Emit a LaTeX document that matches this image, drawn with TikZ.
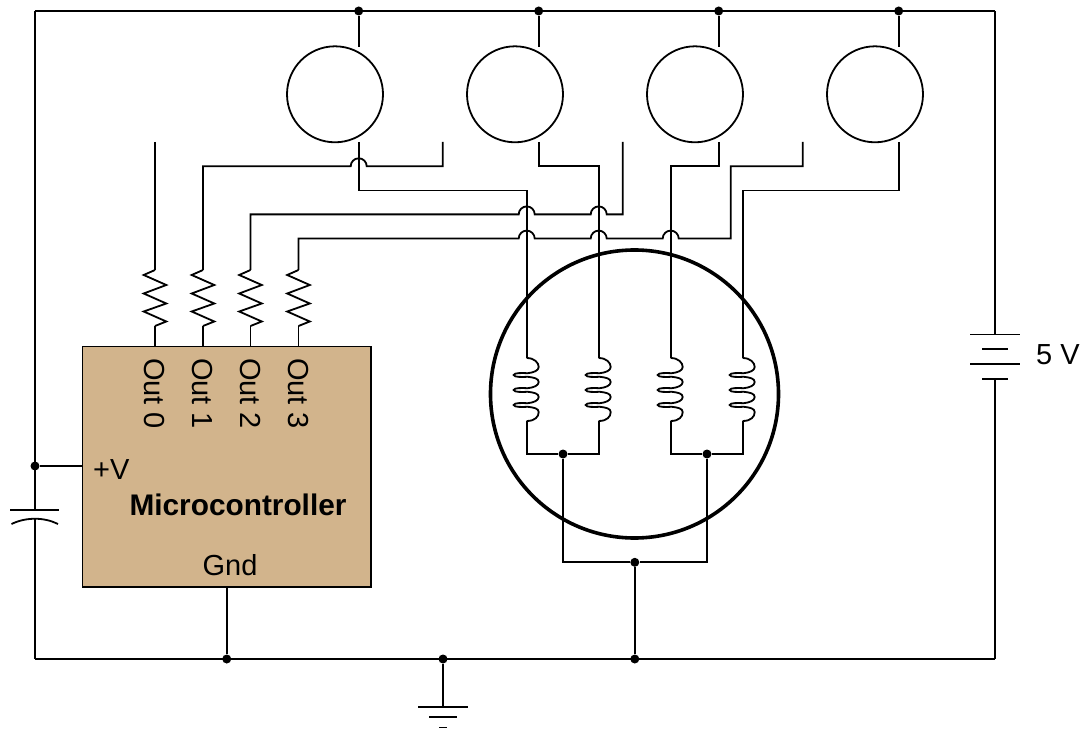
\documentclass[tikz,border=0pt]{standalone}
\usepackage[svgnames]{xcolor}
\usepackage{fontspec}
\setmainfont{Liberation Sans}
\usepackage{tikz}
\usetikzlibrary{positioning,calc}
\newcommand{\hopover}[1]{-- ($#1+(8,0)$) arc[start angle=0,end angle=-180,radius=8]}

\begin{document}
\begin{tikzpicture}[
            x=1pt,y=-1pt,
            every node/.style={on grid,inner sep=0pt,font=\fontsize{29}{34}\selectfont},
            wire/.style={line width=1.8pt,line join=miter},
            bulb/.style={circle,draw,line width=1.8pt,minimum size=96pt},
            dot/.style={circle,fill=black,minimum size=9pt},
            mcu/.style={draw,fill=Tan,line width=1.8pt,minimum width=288.5pt,minimum height=240.5pt},
            outlabel/.style={rotate=-90,anchor=west},
            resistor/.pic={
                \coordinate (-top) at (0,0);
                \coordinate (-bot) at (0,56);
                \draw[wire] (-top) -- (-11.3,5) -- (11.3,15) -- (-11.3,23.5) -- (11.3,33.5)
                    -- (-11.3,41.5) -- (11.3,51.5) -- (-bot);
            },
            coil/.pic={
                \coordinate (-top) at (0,0);
                \coordinate (-bot) at (0,63);
                \draw[wire] (-top) .. controls (8,0) and (12,5) .. (12,9)
                    .. controls (12,12.5) and (7,14.6) .. (1,15.2) .. controls (-4,15) and (-13,14.6) .. (-13,17)
                    .. controls (-13,19.4) and (-4,19) .. (1,18.8) .. controls (7,19.4) and (12,20.5) .. (12,24)
                    .. controls (12,27.5) and (7,29.6) .. (1,30.2) .. controls (-4,30) and (-13,29.6) .. (-13,32)
                    .. controls (-13,34.4) and (-4,34) .. (1,33.8) .. controls (7,34.4) and (12,35.5) .. (12,39)
                    .. controls (12,42.5) and (7,44.6) .. (1,45.2) .. controls (-4,45) and (-13,44.6) .. (-13,47)
                    .. controls (-13,49.4) and (-4,49) .. (1,48.8) .. controls (7,49.4) and (12,50.5) .. (12,54)
                    .. controls (12,59) and (8,63) .. (-bot);
            }
        ]
        \useasboundingbox (0,0) rectangle (1085,730);

        % Draw lamps %
        \node[bulb] (b1) at (335,94.3) {};
        \node[bulb,right=180pt of b1] (b2) {};
        \node[bulb,right=180pt of b2] (b3) {};
        \node[bulb,right=180pt of b3] (b4) {};

        % Draw rails %
        \coordinate (tl) at (35,11);
        \coordinate (tr) at (995,11);
        \coordinate (bl) at (35,659);
        \coordinate (br) at (995,659);
        \node[dot] (t1) at (358.7,11) {};
        \node[dot] (t2) at (538.7,11) {};
        \node[dot] (t3) at (718.7,11) {};
        \node[dot] (t4) at (898.7,11) {};
        \node[dot] (g1) at (226.75,659) {};
        \node[dot] (g2) at (443,659) {};
        \node[dot] (g3) at (634.8,659) {};
        \node[dot] (vcc) at (35,466) {};

        % Draw stubs at the lamps %
        \coordinate (u1) at (358.7,47);
        \coordinate (u2) at (538.7,47);
        \coordinate (u3) at (718.7,47);
        \coordinate (u4) at (898.7,47);
        \coordinate (v1) at (358.7,142);
        \coordinate (v2) at (538.7,142);
        \coordinate (v3) at (718.7,142);
        \coordinate (v4) at (898.7,142);
        \coordinate (w1) at (442.7,142);
        \coordinate (w2) at (622.7,142);
        \coordinate (w3) at (802.7,142);
        \coordinate (p0) at (155,142);
        \draw[wire] (t1) -- (u1);
        \draw[wire] (t2) -- (u2);
        \draw[wire] (t3) -- (u3);
        \draw[wire] (t4) -- (u4);

        % Draw controller %
        \node[mcu] (mc) at (226.75,466.75) {};
        \node (out0) [outlabel] at (154.5,358) {Out 0};
        \node (out1) [outlabel] at (202.5,358) {Out 1};
        \node (out2) [outlabel] at (250,358) {Out 2};
        \node (out3) [outlabel] at (298,358) {Out 3};
        \node[anchor=west] (plus) at (93,470) {+V};
        \node[font=\fontsize{29.8}{34}\selectfont\bfseries] (name) at (238,505) {Microcontroller};
        \node (gnd) at (230,565) {Gnd};

        % Draw resistors %
        \pic (r0) at (155,270) {resistor};
        \pic (r1) at (203,270) {resistor};
        \pic (r2) at (250.5,270) {resistor};
        \pic (r3) at (298.5,270) {resistor};
        \draw[wire] (r0-bot) -- (r0-bot |- mc.north);
        \draw[wire] (r1-bot) -- (r1-bot |- mc.north);
        \draw[wire] (r2-bot) -- (r2-bot |- mc.north);
        \draw[wire] (r3-bot) -- (r3-bot |- mc.north);

        % Draw motor %
        \node[circle,draw,line width=3.6pt,minimum size=288pt] (motor) at (634.5,394) {};
        \pic (c1) at (526.7,358) {coil};
        \pic (c2) at (598.7,358) {coil};
        \pic (c3) at (670.7,358) {coil};
        \pic (c4) at (742.7,358) {coil};
        \node[dot] (j12) at (563,454) {};
        \node[dot] (j34) at (707,454) {};
        \node[dot] (k) at (634.8,562.3) {};
        \draw[wire] (c1-bot) |- (j12) -| (c2-bot);
        \draw[wire] (c3-bot) |- (j34) -| (c4-bot);
        \draw[wire] (j12) |- (k) -| (j34);
        \draw[wire] (k) -- (g3);

        % Draw crossings %
        \coordinate (x1) at (358.7,166.3);
        \coordinate (x2a) at (526.7,214.4);
        \coordinate (x2b) at (598.7,214.4);
        \coordinate (x3a) at (526.7,238.6);
        \coordinate (x3b) at (598.7,238.6);
        \coordinate (x3c) at (670.7,238.6);

        % Draw lines to the resistors %
        \draw[wire] (p0) -- (r0-top);
        \draw[wire] (w1) |- (x1 -| w1) \hopover{(x1)} -| (r1-top);
        \draw[wire] (w2) -- (w2 |- x2b) \hopover{(x2b)} \hopover{(x2a)} -| (r2-top);
        \draw[wire] (w3) |- (730.7,166.3) -- (730.7,238.6) \hopover{(x3c)} \hopover{(x3b)} \hopover{(x3a)} -| (r3-top);

        % Draw lines to the coils %
        \draw[wire] (v1) |- (526.7,190.6) -- (c1-top);
        \draw[wire] (v2) |- (598.7,166.3) -- (c2-top);
        \draw[wire] (v3) |- (670.7,166.3) -- (c3-top);
        \draw[wire] (v4) |- (742.7,190.6) -- (c4-top);

        % Draw capacitor %
        \coordinate (cap1) at (35,510);
        \coordinate (cap2) at (35,519);
        \draw[wire] (tl) -- (tr);
        \draw[wire] (bl) -- (br);
        \draw[wire] (tl) -- (cap1);
        \draw[wire] (cap2) -- (bl);
        \draw[wire] (10,510) -- (59,510);
        \draw[wire] (11.5,524) .. controls (26,517) and (44,517) .. (58,524);
        \draw[wire] (vcc) -- (vcc -| mc.west);

        % Draw battery %
        \coordinate (bat1) at (995,334.5);
        \coordinate (bat2) at (995,379.3);
        \draw[wire] (tr) -- (bat1);
        \draw[wire] (bat2) -- (br);
        \draw[wire] (970,334.5) -- (1019.5,334.5);
        \draw[wire] (982,349.3) -- (1007.5,349.3);
        \draw[wire] (970,364) -- (1019.5,364);
        \draw[wire] (982,379.3) -- (1007.5,379.3);
        \node (vlabel) at (1058,355) {5 V};

        % Draw ground %
        \coordinate (e1) at (443,706.7);
        \draw[wire] (mc.south) -- (g1);
        \draw[wire] (g2) -- (e1);
        \draw[wire] (418,706.7) -- (467.5,706.7);
        \draw[wire] (429,717) -- (457,717);
        \draw[wire] (439,727.5) -- (447,727.5);
\end{tikzpicture}
\end{document}
